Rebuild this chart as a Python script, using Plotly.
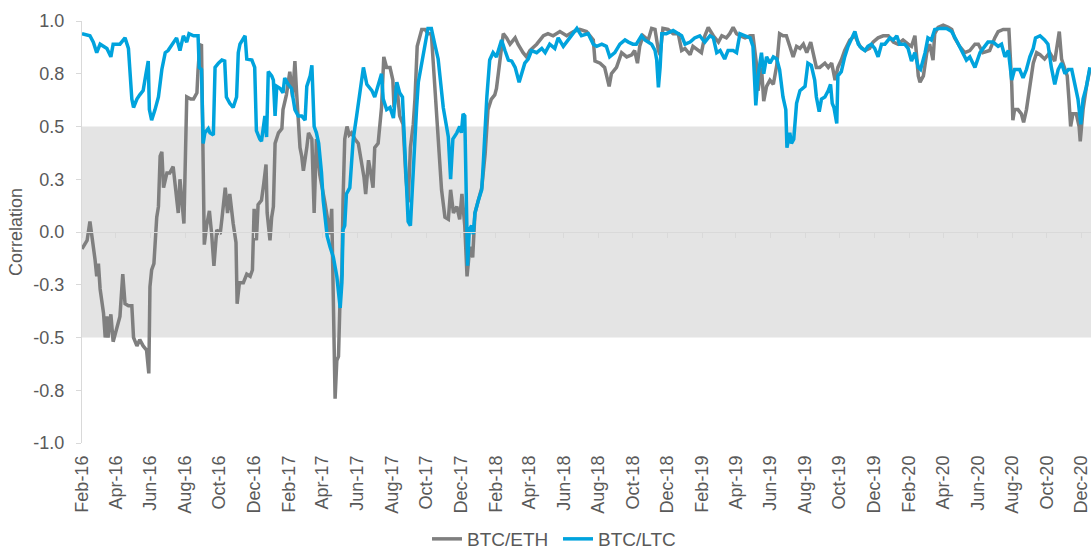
import pandas as pd
import plotly.graph_objects as go

start_date = pd.Timestamp("2016-02-01")

# BTC/ETH rolling correlation: days since 2016-02-01, correlation value
eth_days = [0, 9, 14, 19, 23, 26, 29, 32, 35, 38, 41, 44, 46, 51, 55, 61, 67, 72, 76, 82, 88, 91, 97, 102, 108, 114, 118, 120, 123, 127,
            132, 135, 138, 141, 144, 150, 155, 161, 167, 170, 173, 176, 180, 185, 192, 197, 203, 205, 208, 211, 214, 216, 220, 225, 229, 233, 238, 244, 247, 250,
            253, 257, 261, 267, 272, 274, 278, 285, 291, 297, 301, 304, 308, 311, 317, 321, 325, 327, 332, 335, 338, 341, 347, 353, 355, 361, 364, 367, 372, 376,
            379, 382, 385, 388, 391, 397, 400, 406, 410, 414, 420, 429, 433, 438, 441, 444, 447, 450, 453, 456, 459, 461, 464, 468, 472, 476, 482, 488, 494, 498,
            501, 506, 510, 514, 517, 523, 529, 533, 538, 544, 549, 551, 556, 561, 567, 572, 576, 580, 585, 588, 592, 600, 606, 611, 617, 623, 629, 635, 641, 647,
            651, 656, 662, 667, 671, 676, 680, 685, 690, 694, 700, 706, 712, 715, 717, 723, 729, 732, 738, 744, 750, 756, 765, 770, 779, 785, 791, 803, 815, 823,
            832, 844, 856, 868, 879, 891, 903, 906, 915, 923, 931, 935, 944, 953, 962, 971, 976, 981, 985, 991, 1000, 1006, 1012, 1018, 1021, 1026, 1035, 1044, 1053, 1059,
            1065, 1074, 1079, 1088, 1094, 1100, 1106, 1115, 1124, 1130, 1138, 1144, 1150, 1156, 1162, 1171, 1180, 1185, 1191, 1194, 1200, 1204, 1209, 1215, 1221, 1227, 1232, 1238, 1244, 1250,
            1256, 1262, 1268, 1274, 1280, 1287, 1291, 1297, 1303, 1312, 1318, 1324, 1330, 1335, 1341, 1347, 1356, 1365, 1374, 1383, 1391, 1397, 1406, 1415, 1424, 1433, 1441, 1450, 1459, 1465,
            1471, 1477, 1480, 1486, 1492, 1497, 1503, 1506, 1512, 1521, 1530, 1536, 1541, 1550, 1559, 1568, 1577, 1583, 1591, 1603, 1612, 1618, 1627, 1637, 1642, 1644, 1647, 1653, 1659, 1663,
            1668, 1674, 1680, 1686, 1692, 1700, 1709, 1718, 1724, 1726, 1730, 1736, 1740, 1743, 1746, 1750, 1756, 1761, 1763, 1768, 1774, 1780]
eth_corr = [-0.08, -0.04, 0.05, -0.04, -0.13, -0.21, -0.15, -0.27, -0.32, -0.385, -0.50, -0.40, -0.50, -0.39, -0.52, -0.46, -0.40, -0.20, -0.34, -0.35, -0.35, -0.50, -0.54, -0.51, -0.54, -0.56, -0.67, -0.26, -0.18, -0.15,
            0.07, 0.12, 0.36, 0.38, 0.21, 0.28, 0.28, 0.31, 0.18, 0.09, 0.25, 0.15, 0.04, 0.64, 0.63, 0.63, 0.66, 0.77, 0.88, 0.89, 0.42, -0.06, 0.03, 0.10, -0.01, -0.16, 0.01, -0.01, 0.06, 0.15,
            0.21, 0.09, 0.18, 0.04, -0.05, -0.34, -0.24, -0.24, -0.20, -0.21, -0.18, 0.11, -0.04, 0.13, 0.15, 0.23, 0.32, 0.09, -0.04, 0.07, 0.12, 0.42, 0.47, 0.49, 0.58, 0.65, 0.70, 0.76, 0.64, 0.81,
            0.66, 0.51, 0.40, 0.36, 0.29, 0.40, 0.47, 0.44, 0.09, 0.44, 0.27, 0.14, 0.07, -0.01, 0.11, -0.48, -0.79, -0.61, -0.59, -0.29, -0.20, 0.15, 0.44, 0.50, 0.46, 0.47, 0.44, 0.42, 0.33, 0.26,
            0.18, 0.34, 0.28, 0.21, 0.40, 0.42, 0.59, 0.83, 0.78, 0.78, 0.72, 0.59, 0.70, 0.55, 0.51, 0.26, 0.14, 0.40, 0.51, 0.63, 0.88, 0.96, 0.96, 0.94, 0.94, 0.68, 0.48, 0.20, 0.07, 0.06,
            0.20, 0.09, 0.12, 0.06, 0.18, 0.03, -0.21, -0.07, -0.12, 0.09, 0.15, 0.21, 0.37, 0.47, 0.58, 0.63, 0.65, 0.68, 0.815, 0.94, 0.92, 0.89, 0.92, 0.89, 0.85, 0.83, 0.86, 0.89, 0.93, 0.94,
            0.93, 0.95, 0.93, 0.95, 0.96, 0.95, 0.91, 0.81, 0.80, 0.78, 0.69, 0.75, 0.78, 0.85, 0.83, 0.84, 0.86, 0.80, 0.88, 0.93, 0.91, 0.965, 0.96, 0.86, 0.84, 0.965, 0.96, 0.94, 0.94, 0.86,
            0.87, 0.84, 0.88, 0.86, 0.85, 0.93, 0.97, 0.93, 0.90, 0.93, 0.92, 0.94, 0.97, 0.94, 0.93, 0.92, 0.93, 0.93, 0.80, 0.67, 0.78, 0.62, 0.69, 0.72, 0.70, 0.79, 0.94, 0.93, 0.93, 0.88,
            0.83, 0.88, 0.87, 0.89, 0.85, 0.90, 0.85, 0.78, 0.78, 0.80, 0.78, 0.80, 0.72, 0.78, 0.815, 0.86, 0.91, 0.93, 0.88, 0.86, 0.87, 0.90, 0.92, 0.93, 0.93, 0.90, 0.89, 0.91, 0.89, 0.88,
            0.93, 0.74, 0.71, 0.74, 0.85, 0.89, 0.815, 0.94, 0.97, 0.98, 0.97, 0.96, 0.92, 0.88, 0.85, 0.86, 0.89, 0.89, 0.85, 0.86, 0.92, 0.95, 0.96, 0.96, 0.70, 0.53, 0.58, 0.58, 0.56, 0.52,
            0.58, 0.70, 0.80, 0.85, 0.84, 0.82, 0.85, 0.81, 0.93, 0.95, 0.82, 0.77, 0.74, 0.63, 0.50, 0.56, 0.56, 0.50, 0.43, 0.58, 0.69, 0.77]

# BTC/LTC rolling correlation
ltc_days = [0, 14, 20, 26, 32, 44, 51, 55, 67, 76, 82, 85, 88, 91, 97, 102, 108, 113, 117, 119, 123, 129, 135, 141, 147, 152, 161, 167, 173, 179,
            185, 189, 197, 205, 207, 211, 214, 217, 223, 226, 232, 235, 241, 247, 252, 255, 261, 267, 273, 276, 279, 288, 291, 300, 305, 308, 314, 317, 323, 326,
            329, 335, 338, 341, 344, 350, 355, 358, 364, 370, 373, 376, 382, 388, 394, 397, 403, 406, 410, 414, 418, 423, 426, 429, 433, 438, 444, 450, 456, 459,
            461, 464, 467, 473, 479, 485, 491, 497, 503, 512, 517, 523, 529, 532, 538, 544, 550, 556, 561, 566, 570, 573, 576, 580, 584, 588, 591, 594, 600, 606,
            611, 617, 623, 629, 638, 644, 647, 651, 655, 662, 667, 670, 673, 676, 679, 681, 684, 688, 691, 694, 700, 706, 709, 712, 715, 720, 726, 732, 738, 741,
            747, 753, 759, 765, 772, 776, 782, 788, 794, 803, 812, 818, 826, 835, 841, 850, 856, 865, 874, 882, 894, 903, 909, 918, 926, 932, 941, 950, 959, 965,
            973, 979, 988, 994, 1000, 1006, 1012, 1015, 1018, 1021, 1024, 1032, 1044, 1053, 1059, 1065, 1074, 1082, 1091, 1100, 1109, 1115, 1121, 1127, 1135, 1141, 1150, 1156, 1162, 1171,
            1180, 1185, 1188, 1190, 1194, 1200, 1204, 1209, 1215, 1221, 1227, 1232, 1238, 1243, 1245, 1250, 1253, 1257, 1262, 1268, 1277, 1282, 1288, 1294, 1297, 1302, 1306, 1312, 1318, 1322,
            1325, 1328, 1333, 1335, 1341, 1347, 1353, 1359, 1365, 1371, 1377, 1383, 1388, 1394, 1400, 1406, 1412, 1418, 1427, 1433, 1439, 1444, 1453, 1459, 1465, 1471, 1477, 1481, 1489, 1494,
            1500, 1506, 1515, 1527, 1536, 1544, 1553, 1562, 1568, 1577, 1586, 1591, 1600, 1609, 1618, 1624, 1630, 1636, 1642, 1647, 1656, 1662, 1668, 1674, 1680, 1684, 1692, 1700, 1706, 1712,
            1718, 1724, 1730, 1736, 1742, 1748, 1753, 1759, 1764, 1768, 1774, 1780]
ltc_corr = [0.94, 0.93, 0.90, 0.85, 0.89, 0.87, 0.83, 0.89, 0.89, 0.92, 0.87, 0.75, 0.63, 0.59, 0.63, 0.65, 0.67, 0.75, 0.81, 0.58, 0.53, 0.58, 0.64, 0.77, 0.85, 0.86, 0.90, 0.92, 0.86, 0.93,
            0.90, 0.94, 0.93, 0.93, 0.78, 0.77, 0.42, 0.47, 0.49, 0.47, 0.46, 0.78, 0.80, 0.815, 0.81, 0.64, 0.61, 0.59, 0.64, 0.85, 0.89, 0.93, 0.82, 0.815, 0.78, 0.48, 0.44, 0.43, 0.55, 0.45,
            0.76, 0.74, 0.72, 0.55, 0.69, 0.68, 0.66, 0.73, 0.70, 0.68, 0.63, 0.58, 0.55, 0.55, 0.53, 0.69, 0.74, 0.79, 0.50, 0.47, 0.42, 0.28, 0.15, 0.07, -0.02, -0.07, -0.12, -0.21, -0.36, -0.24,
            0.01, 0.03, 0.18, 0.21, 0.44, 0.55, 0.67, 0.78, 0.70, 0.67, 0.64, 0.69, 0.75, 0.63, 0.58, 0.59, 0.54, 0.71, 0.66, 0.64, 0.39, 0.15, 0.05, 0.03, 0.25, 0.40, 0.59, 0.71, 0.79, 0.89,
            0.965, 0.965, 0.89, 0.82, 0.59, 0.50, 0.45, 0.25, 0.44, 0.47, 0.50, 0.47, 0.56, 0.55, 0.15, -0.16, 0.01, 0.03, -0.01, 0.09, 0.15, 0.20, 0.34, 0.50, 0.64, 0.815, 0.85, 0.83, 0.89, 0.91,
            0.86, 0.815, 0.81, 0.78, 0.71, 0.75, 0.80, 0.82, 0.86, 0.85, 0.87, 0.85, 0.89, 0.87, 0.92, 0.88, 0.90, 0.93, 0.965, 0.93, 0.94, 0.89, 0.88, 0.89, 0.88, 0.83, 0.85, 0.89, 0.91, 0.90,
            0.89, 0.89, 0.93, 0.91, 0.90, 0.89, 0.86, 0.815, 0.685, 0.78, 0.94, 0.94, 0.955, 0.94, 0.93, 0.89, 0.90, 0.92, 0.93, 0.90, 0.93, 0.92, 0.85, 0.86, 0.82, 0.86, 0.86, 0.85, 0.94, 0.93,
            0.92, 0.88, 0.74, 0.60, 0.74, 0.85, 0.75, 0.83, 0.80, 0.83, 0.82, 0.77, 0.64, 0.58, 0.40, 0.47, 0.42, 0.44, 0.61, 0.67, 0.69, 0.80, 0.79, 0.72, 0.64, 0.57, 0.63, 0.64, 0.67, 0.70,
            0.61, 0.59, 0.515, 0.74, 0.76, 0.83, 0.88, 0.92, 0.95, 0.89, 0.87, 0.86, 0.88, 0.89, 0.87, 0.83, 0.89, 0.89, 0.92, 0.91, 0.93, 0.89, 0.89, 0.87, 0.81, 0.85, 0.78, 0.77, 0.85, 0.92,
            0.91, 0.96, 0.965, 0.965, 0.95, 0.91, 0.86, 0.815, 0.83, 0.78, 0.85, 0.87, 0.90, 0.90, 0.88, 0.89, 0.83, 0.86, 0.72, 0.77, 0.77, 0.73, 0.77, 0.83, 0.87, 0.92, 0.93, 0.91, 0.89, 0.78,
            0.70, 0.77, 0.80, 0.75, 0.77, 0.77, 0.70, 0.63, 0.51, 0.63, 0.69, 0.78]

series_names = ["BTC/ETH", "BTC/LTC"]
x_tick_dates = ["2016-02-01", "2016-04-01", "2016-06-01", "2016-08-01", "2016-10-01", "2016-12-01",
                "2017-02-01", "2017-04-01", "2017-06-01", "2017-08-01", "2017-10-01", "2017-12-01",
                "2018-02-01", "2018-04-01", "2018-06-01", "2018-08-01", "2018-10-01", "2018-12-01",
                "2019-02-01", "2019-04-01", "2019-06-01", "2019-08-01", "2019-10-01", "2019-12-01",
                "2020-02-01", "2020-04-01", "2020-06-01", "2020-08-01", "2020-10-01", "2020-12-01"]
x_tick_labels = ["Feb-16", "Apr-16", "Jun-16", "Aug-16", "Oct-16", "Dec-16",
                 "Feb-17", "Apr-17", "Jun-17", "Aug-17", "Oct-17", "Dec-17",
                 "Feb-18", "Apr-18", "Jun-18", "Aug-18", "Oct-18", "Dec-18",
                 "Feb-19", "Apr-19", "Jun-19", "Aug-19", "Oct-19", "Dec-19",
                 "Feb-20", "Apr-20", "Jun-20", "Aug-20", "Oct-20", "Dec-20"]
y_tick_values = [-1.0, -0.75, -0.5, -0.25, 0.0, 0.25, 0.5, 0.75, 1.0]
y_tick_labels = ["-1.0", "-0.8", "-0.5", "-0.3", "0.0", "0.3", "0.5", "0.8", "1.0"]
band_low, band_high = -0.5, 0.5
x_start, x_end = "2016-02-01", "2020-12-18"

eth_dates = start_date + pd.to_timedelta(eth_days, unit="D")
ltc_dates = start_date + pd.to_timedelta(ltc_days, unit="D")

FONT = "Liberation Sans, Arial, sans-serif"
TXT = "#595959"
AX = "#d9d9d9"

fig = go.Figure()
fig.add_trace(go.Scatter(x=eth_dates, y=eth_corr, mode="lines", name=series_names[0],
                         line=dict(color="#7f7f7f", width=3.5)))
fig.add_trace(go.Scatter(x=ltc_dates, y=ltc_corr, mode="lines", name=series_names[1],
                         line=dict(color="#00a3dd", width=3.5)))
# empty helper trace so the zero-crossing date axis (x2) is drawn
fig.add_trace(go.Scatter(x=[], y=[], xaxis="x2", yaxis="y", showlegend=False, hoverinfo="skip"))

fig.add_shape(type="rect", xref="paper", yref="y", x0=0, x1=1, y0=band_low, y1=band_high,
              fillcolor="#e4e4e4", line=dict(width=0), layer="below")

fig.update_layout(
    width=1091, height=550,
    margin=dict(l=82, r=0, t=21, b=107, pad=0),
    paper_bgcolor="white", plot_bgcolor="white",
    font=dict(family=FONT, size=18, color=TXT),
    showlegend=True,
    legend=dict(orientation="h", xref="container", yref="container", x=0.3914, y=0.02,
                xanchor="left", yanchor="middle", font=dict(size=19, color=TXT),
                itemwidth=30, entrywidth=86, tracegroupgap=0, bgcolor="rgba(0,0,0,0)"),
    xaxis=dict(type="date", range=[x_start, x_end], tickmode="array",
               tickvals=x_tick_dates, ticktext=x_tick_labels, tickangle=-90,
               showgrid=False, zeroline=False, showline=False, ticks="",
               ticklabelstandoff=8, ticklabeloverflow="allow",
               tickfont=dict(size=18, color=TXT)),
    xaxis2=dict(type="date", range=[x_start, x_end], tickmode="array", tickvals=x_tick_dates,
                overlaying="x", anchor="free", position=0.5, side="bottom",
                showline=True, linecolor=AX, linewidth=1, ticks="outside", ticklen=5,
                tickcolor=AX, showticklabels=False, showgrid=False, zeroline=False),
    yaxis=dict(range=[-1, 1], tickvals=y_tick_values, ticktext=y_tick_labels,
               showgrid=False, zeroline=False, showline=True, linecolor=AX, linewidth=1,
               ticks="outside", ticklen=5, tickcolor=AX, ticklabelstandoff=8,
               tickfont=dict(size=18, color=TXT),
               title=dict(text="Correlation", font=dict(size=18, color=TXT), standoff=6)),
)

fig.write_html("out.html",
               config={"displayModeBar": False},
               post_script="document.body.style.margin='0px';document.body.style.overflow='hidden';")
